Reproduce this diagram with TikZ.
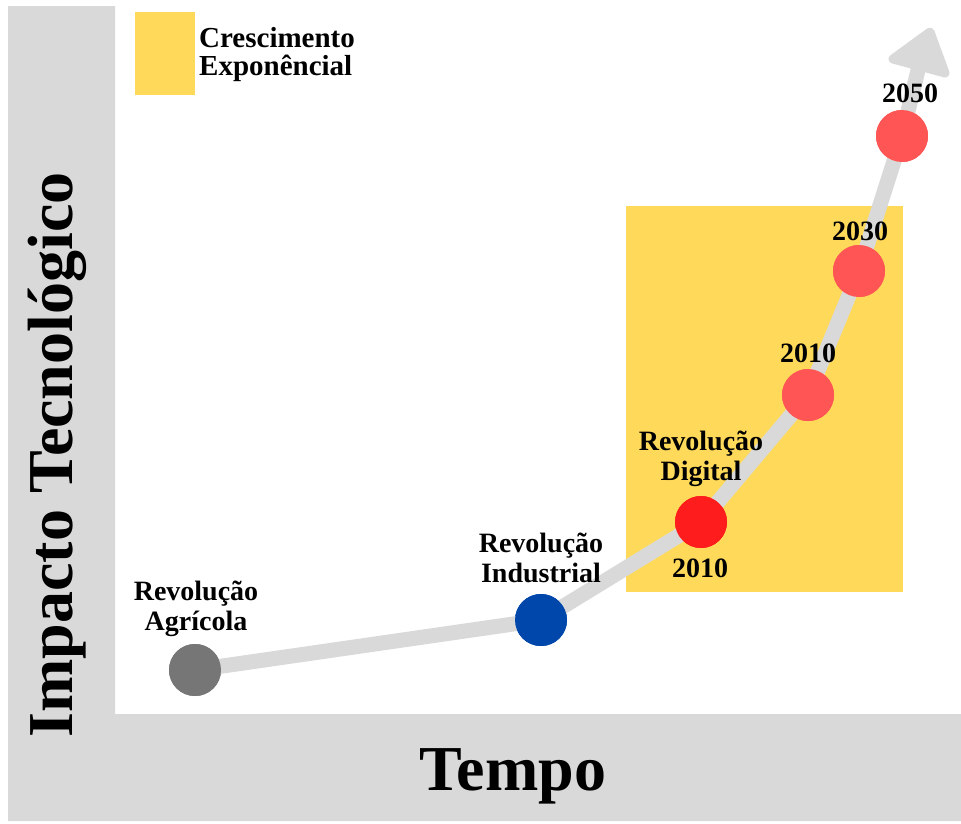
\documentclass[tikz,border=0pt]{standalone}
\usepackage{fontspec}
\setmainfont{Liberation Serif}
\definecolor{bggray}{HTML}{D9D9D9}
\definecolor{yel}{HTML}{FFD95A}
\definecolor{cgray}{HTML}{767676}
\definecolor{cblue}{HTML}{0047AB}
\definecolor{cred}{HTML}{FF1C1C}
\definecolor{cpink}{HTML}{FF5555}
\begin{document}
\begin{tikzpicture}[x=1pt,y=-1pt,
  dot/.style={circle,minimum size=52pt,inner sep=0pt},
  lbl/.style={font=\fontsize{28}{30}\selectfont\bfseries,align=center,inner sep=0pt,anchor=base},
  big/.style={font=\fontsize{64}{70}\selectfont\bfseries,inner sep=0pt}]
\useasboundingbox (0,0) rectangle (961,823);
\fill[white] (0,0) rectangle (961,823);
% axes background
\fill[bggray] (8,6) -- (115,6) -- (115,714) -- (961,714) -- (961,821) -- (8,821) -- cycle;
% exponential region
\fill[yel] (626,206) rectangle (903,592);
% legend
\fill[yel] (135,12) rectangle (195,95);
\node[lbl,anchor=base west,align=left,font=\fontsize{29}{28}\selectfont\bfseries] (leg) at (199,75) {Crescimento\\Exponêncial};
% points
\node[dot,fill=cgray] (p1) at (195,670) {};
\node[dot,fill=cblue] (p2) at (541,620) {};
\node[dot,fill=cred] (p3) at (701,522) {};
\node[dot,fill=cpink] (p4) at (808,395) {};
\node[dot,fill=cpink] (p5) at (859,271) {};
\node[dot,fill=cpink] (p6) at (902,136) {};
\coordinate (hb) at (919,66);
% trend line
\draw[bggray,line width=15pt,line join=round] (p1.center) -- (p2.center) -- (p3.center) -- (p4.center) -- (p5.center) -- (p6.center) -- (hb);
\fill[bggray,draw=bggray,line width=9pt,line join=round] (930,32) -- (893,59) -- (945,73) -- cycle;
% dots on top of the line
\foreach \n/\c in {p1/cgray,p2/cblue,p3/cred,p4/cpink,p5/cpink,p6/cpink}
  \fill[\c] (\n.center) circle (26pt);
% labels
\node[lbl] (l1) at (196,630) {Revolução\\Agrícola};
\node[lbl] (l2) at (541,582) {Revolução\\Industrial};
\node[lbl] (l3) at (701,480) {Revolução\\Digital};
\node[lbl] (y1) at (700,577) {2010};
\node[lbl] (y2) at (808,362) {2010};
\node[lbl] (y3) at (860,240) {2030};
\node[lbl] (y4) at (910,102) {2050};
% axis titles
\node[big,anchor=base] (tx) at (513,790) {Tempo};
\node[big,anchor=base,rotate=90] (ty) at (72,455) {Impacto Tecnológico};
\end{tikzpicture}
\end{document}
